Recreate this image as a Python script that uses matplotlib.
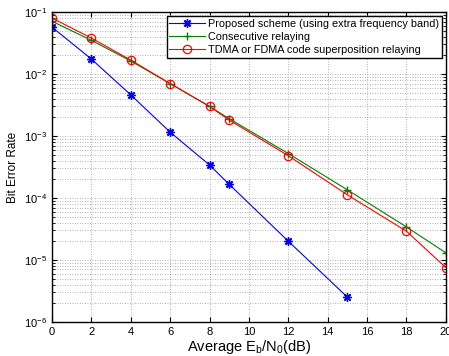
import matplotlib
matplotlib.use('Agg')
import matplotlib.pyplot as plt
import numpy as np

plt.rcParams['font.family'] = ['Liberation Sans', 'DejaVu Sans']
plt.rcParams['mathtext.fontset'] = 'custom'
plt.rcParams['mathtext.rm'] = 'Liberation Sans'
plt.rcParams['mathtext.it'] = 'Liberation Sans'

# ── data ──
snr_prop = [0, 2, 4, 6, 8, 9, 12, 15]
ber_prop = [0.057, 0.0174, 0.0046, 0.00115, 3.4e-4, 1.65e-4, 2.0e-5, 2.5e-6]

snr_cons = [0, 2, 4, 6, 8, 9, 12, 15, 18, 20]
ber_cons = [0.071, 0.035, 0.0162, 0.0070, 0.0030, 0.0019, 5.2e-4, 1.35e-4, 3.4e-5, 1.3e-5]

snr_tdma = [0, 2, 4, 6, 8, 9, 12, 15, 18, 20]
ber_tdma = [0.080, 0.038, 0.0168, 0.0070, 0.0030, 0.0018, 4.8e-4, 1.12e-4, 2.9e-5, 7.5e-6]

labels = ['Proposed scheme (using extra frequency band)',
          'Consecutive relaying',
          'TDMA or FDMA code superposition relaying']

fig = plt.figure(figsize=(4.49, 3.56), dpi=100)
ax = fig.add_axes([0.116, 0.096, 0.877, 0.870])

ax.semilogy(snr_prop, ber_prop, '-', marker=(8, 2, 0), color='#0000ff', lw=0.8, ms=6, mew=1.0, label=labels[0])
ax.semilogy(snr_cons, ber_cons, '-+', color='#008000', lw=0.8, ms=6, mew=1.0, label=labels[1])
ax.semilogy(snr_tdma, ber_tdma, '-o', color='#ff0000', lw=0.8, ms=6, mew=0.9, mfc='none', label=labels[2])

ax.set_xlim(0, 20)
ax.set_ylim(1e-6, 1e-1)
ax.set_xticks(np.arange(0, 21, 2))
ax.grid(True, which='major', linestyle=(0, (1, 2)), color='#999999', lw=0.6)
ax.grid(True, which='minor', axis='y', linestyle=(0, (1, 2)), color='#999999', lw=0.6)
ax.tick_params(which='both', direction='in', top=True, right=True, labelsize=8)
for s in ax.spines.values():
    s.set_linewidth(1.0)

ax.set_xlabel('Average E$_\\mathregular{b}$/N$_\\mathregular{0}$(dB)', fontsize=10.5, labelpad=1)
ax.set_ylabel('Bit Error Rate', fontsize=8.5)

leg = ax.legend(loc='upper right', fontsize=7.8, fancybox=False, framealpha=1,
                edgecolor='black', borderpad=0.25, labelspacing=0.3, handlelength=3.3,
                handletextpad=0.3, borderaxespad=0.35)
leg.get_frame().set_linewidth(1.0)

plt.savefig('out.png', dpi=100)
